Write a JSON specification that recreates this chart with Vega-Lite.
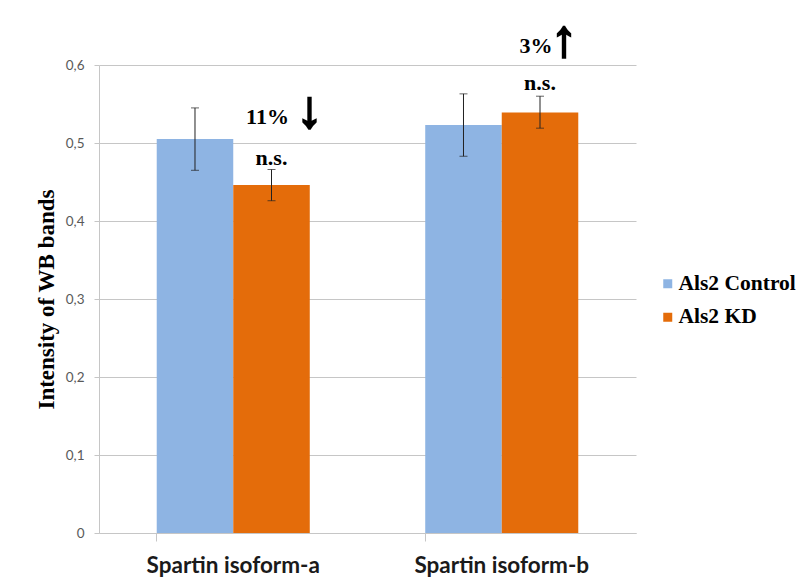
{
  "$schema": "https://vega.github.io/schema/vega-lite/v6.json",
  "width": 537,
  "height": 468,
  "autosize": {"type": "none"},
  "padding": {"left": 99, "top": 65, "right": 161, "bottom": 50},
  "background": "white",
  "config": {"view": {"stroke": null}},
  "datasets": {
    "bars": [
      {"isoform": "Spartin isoform-a", "group": "Als2 Control", "value": 0.505, "lo": 0.465, "hi": 0.545},
      {"isoform": "Spartin isoform-a", "group": "Als2 KD", "value": 0.446, "lo": 0.426, "hi": 0.466},
      {"isoform": "Spartin isoform-b", "group": "Als2 Control", "value": 0.523, "lo": 0.483, "hi": 0.563},
      {"isoform": "Spartin isoform-b", "group": "Als2 KD", "value": 0.539, "lo": 0.519, "hi": 0.56}
    ],
    "notes": [
      {"isoform": "Spartin isoform-a", "group": "Als2 KD", "kind": "pct", "y": 0.525, "text": "11%"},
      {"isoform": "Spartin isoform-b", "group": "Als2 KD", "kind": "pct", "y": 0.6155, "text": "3%"},
      {"isoform": "Spartin isoform-a", "group": "Als2 KD", "kind": "ns", "y": 0.472, "text": "n.s."},
      {"isoform": "Spartin isoform-b", "group": "Als2 KD", "kind": "ns", "y": 0.568, "text": "n.s."},
      {"isoform": "Spartin isoform-a", "group": "Als2 KD", "kind": "down", "y": 0.541, "text": "↓"},
      {"isoform": "Spartin isoform-b", "group": "Als2 KD", "kind": "up", "y": 0.6325, "text": "↑"}
    ]
  },
  "encoding": {
    "x": {
      "field": "isoform",
      "type": "nominal",
      "scale": {"paddingInner": 0.43, "paddingOuter": 0.215},
      "axis": {
        "title": null,
        "labelAngle": 0,
        "labelFont": "Lato",
        "labelFontWeight": "bold",
        "labelFontSize": 22.5,
        "labelColor": "#1a1a1a",
        "labelPadding": 13,
        "bandPosition": 0,
        "tickSize": 8,
        "tickColor": "#c6c6c6",
        "domainColor": "#c6c6c6",
        "grid": false
      }
    },
    "xOffset": {"field": "group", "type": "nominal", "sort": ["Als2 Control", "Als2 KD"]}
  },
  "layer": [
    {
      "data": {"name": "bars"},
      "mark": {"type": "bar"},
      "encoding": {
        "y": {
          "field": "value",
          "type": "quantitative",
          "scale": {"domain": [0, 0.6], "nice": false},
          "axis": {
            "title": "Intensity of WB bands",
            "titleFont": "Liberation Serif",
            "titleFontWeight": "bold",
            "titleFontSize": 23,
            "titleColor": "black",
            "titleX": -53,
            "titleY": 234,
            "titleAngle": -90,
            "titleAlign": "center",
            "titleBaseline": "middle",
            "values": [0, 0.1, 0.2, 0.3, 0.4, 0.5, 0.6],
            "labelExpr": "datum.value == 0 ? '0' : replace(format(datum.value, '.1f'), '.', ',')",
            "labelFont": "Lato",
            "labelFontSize": 13.5,
            "labelColor": "#595959",
            "labelPadding": 10,
            "tickSize": 5,
            "tickColor": "#c6c6c6",
            "domainColor": "#c6c6c6",
            "gridColor": "#c6c6c6",
            "gridWidth": 1
          }
        },
        "color": {
          "field": "group",
          "type": "nominal",
          "scale": {"domain": ["Als2 Control", "Als2 KD"], "range": ["#8EB4E3", "#E46C0A"]},
          "legend": {
            "title": null,
            "orient": "none",
            "legendX": 558,
            "legendY": 208,
            "symbolType": "square",
            "symbolSize": 81,
            "symbolStrokeWidth": 0,
            "labelFont": "Liberation Serif",
            "labelFontWeight": "bold",
            "labelFontSize": 21.5,
            "labelColor": "black",
            "labelOffset": 0,
            "rowPadding": 10.5
          }
        }
      }
    },
    {
      "data": {"name": "bars"},
      "mark": {"type": "rule", "color": "#222222", "strokeWidth": 1},
      "encoding": {
        "y": {"field": "lo", "type": "quantitative"},
        "y2": {"field": "hi"}
      }
    },
    {
      "data": {"name": "bars"},
      "mark": {"type": "tick", "color": "#222222", "thickness": 1, "size": 8},
      "encoding": {"y": {"field": "lo", "type": "quantitative"}}
    },
    {
      "data": {"name": "bars"},
      "mark": {"type": "tick", "color": "#222222", "thickness": 1, "size": 8},
      "encoding": {"y": {"field": "hi", "type": "quantitative"}}
    },
    {
      "data": {"name": "notes"},
      "transform": [{"filter": "datum.kind == 'pct'"}],
      "mark": {"type": "text", "font": "Liberation Serif", "fontWeight": "bold", "fontSize": 22, "baseline": "alphabetic", "dx": -4, "color": "black"},
      "encoding": {"y": {"field": "y", "type": "quantitative"}, "text": {"field": "text"}}
    },
    {
      "data": {"name": "notes"},
      "transform": [{"filter": "datum.kind == 'ns'"}],
      "mark": {"type": "text", "font": "Liberation Serif", "fontWeight": "bold", "fontSize": 22, "baseline": "alphabetic", "dx": 0, "color": "black"},
      "encoding": {"y": {"field": "y", "type": "quantitative"}, "text": {"field": "text"}}
    },
    {
      "data": {"name": "notes"},
      "transform": [{"filter": "datum.kind == 'down'"}],
      "mark": {"type": "text", "font": "Liberation Serif", "fontWeight": "bold", "fontSize": 52, "baseline": "middle", "dx": 38, "color": "black", "stroke": "black", "strokeWidth": 2.2},
      "encoding": {"y": {"field": "y", "type": "quantitative"}, "text": {"field": "text"}}
    },
    {
      "data": {"name": "notes"},
      "transform": [{"filter": "datum.kind == 'up'"}],
      "mark": {"type": "text", "font": "Liberation Serif", "fontWeight": "bold", "fontSize": 52, "baseline": "middle", "dx": 24, "color": "black", "stroke": "black", "strokeWidth": 2.2},
      "encoding": {"y": {"field": "y", "type": "quantitative"}, "text": {"field": "text"}}
    }
  ]
}
